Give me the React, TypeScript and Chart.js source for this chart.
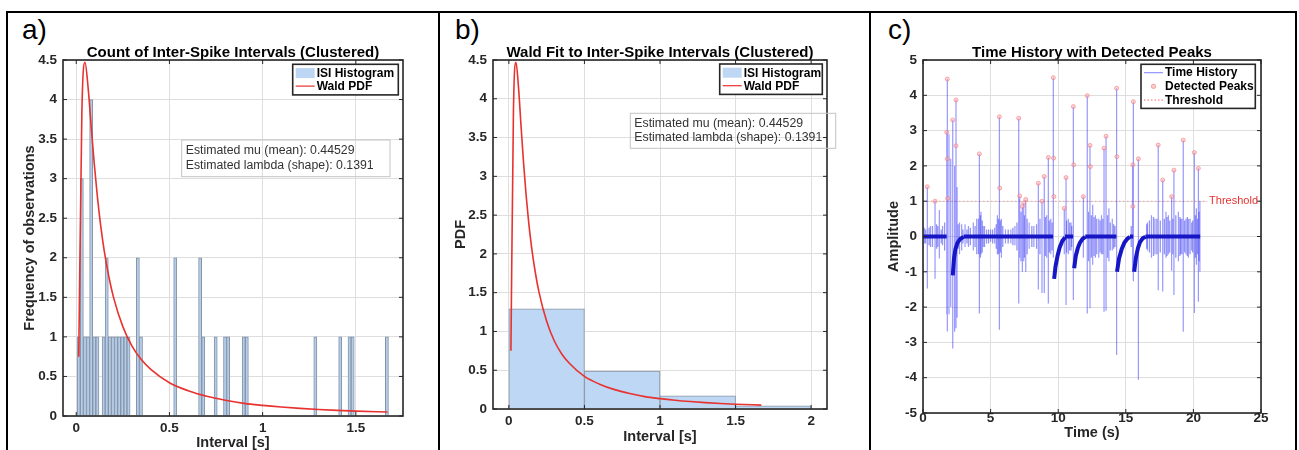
import React, { useEffect, useRef } from 'react';
import { Chart, registerables } from 'chart.js';
Chart.register(...registerables);

// ---------------- data ----------------
// Wald PDF curve (mu = 0.44529, lambda = 0.1391) sampled points
const waldX = [0.0135, 0.0302, 0.047, 0.0637, 0.0805, 0.097, 0.114, 0.131, 0.15, 0.175, 0.2, 0.25, 0.3, 0.35, 0.4, 0.5, 0.6, 0.7, 0.8, 0.9, 1.0, 1.1, 1.2, 1.3, 1.4, 1.5, 1.67];
const waldY = [0.75, 3.83, 4.47, 4.15, 3.65, 3.18, 2.76, 2.41, 2.09, 1.76, 1.5, 1.13, 0.88, 0.71, 0.59, 0.42, 0.32, 0.25, 0.2, 0.16, 0.134, 0.113, 0.096, 0.082, 0.071, 0.062, 0.05];

// Panel a: ISI count histogram (100 bins)
const isiBinStart = 0.005;
const isiBinWidth = 0.0167;
const isiCounts = [
  1, 3, 1, 1, 4, 1, 1, 0, 1, 2,
  1, 1, 1, 1, 1, 1, 1, 0, 0, 2,
  1, 0, 0, 0, 0, 0, 0, 0, 0, 0,
  0, 2, 0, 0, 0, 0, 0, 0, 0, 2,
  1, 0, 0, 0, 1, 0, 0, 1, 1, 0,
  0, 0, 0, 1, 1, 0, 0, 0, 0, 0,
  0, 0, 0, 0, 0, 0, 0, 0, 0, 0,
  0, 0, 0, 0, 0, 0, 1, 0, 0, 0,
  0, 0, 0, 0, 1, 0, 0, 1, 1, 0,
  0, 0, 0, 0, 0, 0, 0, 0, 0, 1,
];
const countXTicks = [0, 0.5, 1, 1.5];
const countYTicks = [0, 0.5, 1, 1.5, 2, 2.5, 3, 3.5, 4, 4.5];

// Panel b: PDF-normalised histogram
const pdfBinEdges = [0, 0.5, 1, 1.5, 2];
const pdfHeights = [1.29, 0.49, 0.17, 0.04];
const pdfXTicks = [0, 0.5, 1, 1.5, 2];

// Panel c: time history
const spikeT = [0.1, 0.32, 0.55, 0.89, 1.21, 1.45, 1.76, 1.8, 1.92, 2.05, 2.2, 2.34, 2.44, 2.52, 2.7, 2.86, 3.11, 3.36, 3.72, 3.97, 4.17, 4.29, 4.45, 4.7, 5.0, 5.3, 5.5, 5.65, 5.8, 6.1, 6.5, 6.8, 7.08, 7.15, 7.35, 7.45, 7.6, 7.85, 8.2, 8.53, 8.8, 8.97, 9.15, 9.27, 9.45, 9.64, 10.45, 10.58, 10.75, 10.95, 11.12, 11.86, 12.15, 12.35, 12.55, 12.75, 13.0, 13.2, 13.39, 13.54, 13.75, 14.0, 14.32, 15.5, 15.56, 15.93, 16.6, 16.9, 17.16, 17.4, 17.73, 17.97, 18.15, 18.39, 18.56, 18.89, 19.05, 19.25, 19.45, 19.63, 19.87, 20.07, 20.22, 20.37, 20.48];
const spikeMax = [0.25, 1.41, 0.3, 1.01, 0.75, 0.3, 2.95, 4.46, 2.9, 2.2, 3.3, 2.0, 3.87, 1.4, 0.4, 0.35, 0.35, 0.3, 0.4, 0.5, 2.34, 0.7, 0.3, 0.2, 0.2, 0.25, 0.6, 3.39, 0.5, 0.2, 0.2, 0.3, 3.35, 1.15, 0.85, 0.95, 1.05, 0.4, 0.3, 1.51, 1.0, 1.7, 0.6, 2.24, 0.5, 4.5, 0.8, 1.67, 0.5, 0.4, 3.68, 1.13, 3.99, 2.58, 0.9, 0.6, 0.5, 0.6, 2.5, 2.84, 0.8, 0.5, 4.2, 2.03, 3.82, 2.2, 0.4, 0.6, 0.5, 2.59, 1.6, 0.7, 0.6, 1.13, 1.88, 0.7, 0.5, 2.73, 0.5, 0.5, 0.4, 2.38, 0.8, 1.93, 1.0];
const spikeMin = [-0.2, -1.47, -0.3, -1.2, -0.62, -0.25, -2.2, -2.69, -2.2, -2.0, -3.17, -2.7, -2.6, -2.3, -0.5, -0.4, -0.3, -0.3, -0.4, -0.5, -2.18, -0.5, -0.3, -0.2, -0.15, -0.2, -0.5, -2.64, -0.6, -0.2, -0.2, -0.25, -1.9, -0.6, -1.0, -0.7, -1.0, -0.35, -0.3, -1.5, -1.6, -1.6, -0.6, -1.9, -0.5, -0.6, -0.5, -1.94, -0.5, -0.4, -1.8, -0.6, -2.18, -2.03, -0.8, -0.6, -0.6, -0.5, -2.13, -2.1, -0.7, -0.4, -3.36, -1.0, -1.27, -4.06, -0.4, -0.6, -0.5, -1.52, -1.56, -0.6, -0.5, -0.97, -1.66, -0.7, -0.5, -2.7, -0.5, -0.6, -0.4, -2.17, -0.8, -1.85, -1.0];
// low-level noise bursts around the baseline (time, half-height)
const noiseT = [0.2, 0.45, 0.7, 1.0, 1.1, 1.35, 1.6, 2.6, 2.95, 3.25, 3.5, 3.85, 4.1, 4.25, 4.38, 4.55, 4.85, 5.15, 5.42, 5.58, 5.72, 5.9, 6.3, 6.65, 6.95, 7.25, 7.5, 7.7, 8.05, 8.4, 8.65, 9.05, 9.35, 9.55, 10.62, 10.85, 11.0, 12.25, 12.45, 12.65, 12.85, 13.1, 13.3, 13.65, 13.85, 14.1, 14.2, 15.4, 16.55, 16.75, 17.05, 17.3, 17.55, 17.85, 18.05, 18.25, 18.48, 18.7, 19.0, 19.15, 19.35, 19.55, 19.75, 19.95, 20.15, 20.3, 20.42];
const noiseAmp = [0.2, 0.25, 0.3, 0.35, 0.3, 0.2, 0.4, 0.35, 0.2, 0.2, 0.25, 0.3, 0.5, 0.6, 0.45, 0.3, 0.2, 0.2, 0.35, 0.5, 0.45, 0.3, 0.2, 0.25, 0.4, 0.7, 0.6, 0.5, 0.3, 0.35, 0.5, 0.55, 0.45, 0.4, 0.45, 0.4, 0.3, 0.7, 0.6, 0.55, 0.5, 0.45, 0.5, 0.6, 0.4, 0.35, 0.3, 0.3, 0.35, 0.45, 0.55, 0.5, 0.45, 0.5, 0.55, 0.45, 0.5, 0.6, 0.55, 0.5, 0.45, 0.55, 0.5, 0.45, 0.6, 0.5, 0.7];
const baselineStart = [0, 3.0, 10.5, 12.0, 15.3, 16.45];
const baselineEnd = [1.75, 9.62, 11.1, 14.3, 15.55, 20.5];
const recoveryT = [
  [2.2, 2.3, 2.4, 2.55, 2.75, 3.0],
  [9.7, 9.8, 9.95, 10.1, 10.3, 10.5],
  [11.18, 11.3, 11.45, 11.6, 11.8, 12.0],
  [14.35, 14.5, 14.7, 14.9, 15.1, 15.3],
  [15.62, 15.75, 15.9, 16.05, 16.25, 16.45],
];
const recoveryY = [
  [-1.1, -0.6, -0.35, -0.18, -0.07, -0.01],
  [-1.2, -0.85, -0.55, -0.32, -0.13, -0.03],
  [-0.9, -0.55, -0.33, -0.18, -0.07, -0.01],
  [-1.0, -0.62, -0.35, -0.17, -0.07, -0.01],
  [-1.0, -0.6, -0.33, -0.16, -0.05, -0.01],
];
const peakT = [0.32, 0.89, 1.76, 1.8, 1.8, 1.82, 2.2, 2.44, 2.44, 4.17, 5.65, 5.67, 7.08, 7.15, 7.35, 7.45, 7.6, 8.53, 8.8, 8.97, 9.27, 9.64, 9.66, 9.68, 10.45, 10.58, 11.12, 11.15, 11.86, 12.15, 12.35, 12.38, 13.39, 13.54, 14.32, 14.34, 15.52, 15.52, 15.56, 15.93, 17.4, 17.73, 18.39, 18.56, 19.25, 20.07, 20.37];
const peakY = [1.41, 1.0, 2.95, 4.46, 2.2, 1.08, 3.3, 3.87, 2.57, 2.34, 3.39, 1.37, 3.35, 1.15, 0.85, 0.95, 1.05, 1.51, 1.0, 1.7, 2.24, 4.5, 2.22, 1.13, 0.8, 1.67, 3.68, 2.03, 1.13, 3.99, 2.58, 1.98, 2.5, 2.84, 4.2, 2.26, 2.03, 0.85, 3.82, 2.2, 2.59, 1.6, 1.13, 1.88, 2.73, 2.38, 1.93];
const thresholdValue = 1;
const timeRange = [0, 25];
const timeXTicks = [0, 5, 10, 15, 20, 25];
const ampYTicks = [-5, -4, -3, -2, -1, 0, 1, 2, 3, 4, 5];

const paramLines = ['Estimated mu (mean): 0.44529', 'Estimated lambda (shape): 0.1391'];

// ---------------- styles ----------------
const FONT = "'Liberation Sans', Arial, Helvetica, sans-serif";
const GRID = '#dedede';
const AXIS = '#262626';
const RED = '#e8322f';
const BAR_FILL = '#b4cce8';
const BAR_EDGE = '#8494a8';

// ---------------- plugins ----------------
const axesBox = {
  id: 'axesBox',
  afterDatasetsDraw(chart: any) {
    const { ctx, chartArea: a } = chart;
    const xs = chart.scales.x;
    const ys = chart.scales.y;
    const tl = 4;
    ctx.save();
    ctx.strokeStyle = AXIS;
    ctx.lineWidth = 1;
    ctx.beginPath();
    xs.ticks.forEach((t: any) => {
      const p = xs.getPixelForValue(t.value);
      ctx.moveTo(p, a.bottom); ctx.lineTo(p, a.bottom - tl);
      ctx.moveTo(p, a.top); ctx.lineTo(p, a.top + tl);
    });
    ys.ticks.forEach((t: any) => {
      const p = ys.getPixelForValue(t.value);
      ctx.moveTo(a.left, p); ctx.lineTo(a.left + tl, p);
      ctx.moveTo(a.right, p); ctx.lineTo(a.right - tl, p);
    });
    ctx.stroke();
    ctx.lineWidth = 1.6;
    ctx.strokeRect(a.left, a.top, a.right - a.left, a.bottom - a.top);
    ctx.restore();
  },
};

type LegItem = { label: string; kind: 'patch' | 'line' | 'marker' | 'dotted'; color: string; edge?: string };
function legendPlugin(cfg: { right: number; top: number; width: number; row: number; pad: number; items: LegItem[] }) {
  return {
    id: 'mLegend',
    afterDraw(chart: any) {
      const { ctx, chartArea: a } = chart;
      const x1 = a.right - cfg.right;
      const x0 = x1 - cfg.width;
      const y0 = a.top + cfg.top;
      const h = cfg.items.length * cfg.row + cfg.pad * 2;
      ctx.save();
      ctx.fillStyle = '#ffffff';
      ctx.fillRect(x0, y0, cfg.width, h);
      ctx.strokeStyle = AXIS;
      ctx.lineWidth = 1.6;
      ctx.strokeRect(x0, y0, cfg.width, h);
      cfg.items.forEach((it, i) => {
        const cy = y0 + cfg.pad + cfg.row * (i + 0.5);
        const sx0 = x0 + 3;
        const sx1 = x0 + 22;
        if (it.kind === 'patch') {
          ctx.fillStyle = it.color;
          ctx.fillRect(sx0, cy - 5, sx1 - sx0, 10);
        } else if (it.kind === 'line' || it.kind === 'dotted') {
          ctx.strokeStyle = it.color;
          ctx.lineWidth = it.kind === 'line' ? 1.2 : 1;
          ctx.setLineDash(it.kind === 'dotted' ? [1.5, 2] : []);
          ctx.beginPath();
          ctx.moveTo(sx0, cy);
          ctx.lineTo(sx1, cy);
          ctx.stroke();
          ctx.setLineDash([]);
        } else {
          ctx.fillStyle = it.color;
          ctx.strokeStyle = it.edge || it.color;
          ctx.beginPath();
          ctx.arc((sx0 + sx1) / 2, cy, 2, 0, Math.PI * 2);
          ctx.fill();
          ctx.stroke();
        }
        ctx.fillStyle = '#000';
        ctx.font = `bold 12px ${FONT}`;
        ctx.textBaseline = 'middle';
        ctx.textAlign = 'left';
        ctx.fillText(it.label, sx1 + 2, cy + 0.5);
      });
      ctx.restore();
    },
  };
}

function textBoxPlugin(cfg: { left: number; top: number; width: number; height: number; gap: number }) {
  return {
    id: 'mText',
    afterDraw(chart: any) {
      const { ctx, chartArea: a } = chart;
      const x0 = a.left + cfg.left;
      const y0 = a.top + cfg.top;
      ctx.save();
      ctx.strokeStyle = '#c4c4c4';
      ctx.lineWidth = 1;
      ctx.strokeRect(x0, y0, cfg.width, cfg.height);
      ctx.fillStyle = '#333333';
      ctx.font = `12.3px ${FONT}`;
      ctx.textBaseline = 'middle';
      ctx.textAlign = 'left';
      const mid = y0 + cfg.height / 2;
      paramLines.forEach((t, i) => {
        ctx.fillText(t, x0 + 4, mid + (i - 0.5) * cfg.gap);
      });
      ctx.restore();
    },
  };
}

const thresholdLabel = {
  id: 'thrLabel',
  afterDatasetsDraw(chart: any) {
    const { ctx, chartArea: a } = chart;
    const y = chart.scales.y.getPixelForValue(thresholdValue);
    ctx.save();
    ctx.font = `11px ${FONT}`;
    const w = ctx.measureText('Threshold').width;
    ctx.fillStyle = '#ffffff';
    ctx.fillRect(a.right - w - 5, y - 5, w + 3, 10);
    ctx.fillStyle = RED;
    ctx.textBaseline = 'middle';
    ctx.textAlign = 'right';
    ctx.fillText('Threshold', a.right - 3, y);
    ctx.restore();
  },
};

// ---------------- helpers ----------------
function titleOpts(text: string) {
  return {
    display: true,
    text,
    color: '#000',
    fullSize: false,
    font: { family: FONT, size: 15, weight: 'bold', lineHeight: 1 },
    padding: { top: 31.5, bottom: -0.5 },
  };
}

function makeScales(o: any) {
  const tickFont = { family: FONT, size: 13.5, weight: 'bold' };
  const titleFont = { family: FONT, size: 14.5, weight: 'bold', lineHeight: 1 };
  return {
    x: {
      type: 'linear',
      min: o.xMin,
      max: o.xMax,
      offset: false,
      afterBuildTicks: (s: any) => { s.ticks = o.xTicks.map((v: number) => ({ value: v })); },
      afterFit: (s: any) => { s.height = o.xHeight; },
      grid: { color: GRID, lineWidth: 1, drawTicks: false, offset: false },
      border: { display: false },
      ticks: { padding: o.xTickPad, color: AXIS, font: tickFont, autoSkip: false, maxRotation: 0, callback: (v: any) => String(v) },
      title: { display: true, text: o.xTitle, color: AXIS, font: titleFont, padding: { top: 0, bottom: o.xTitlePad } },
    },
    y: {
      type: 'linear',
      min: o.yMin,
      max: o.yMax,
      afterBuildTicks: (s: any) => { s.ticks = o.yTicks.map((v: number) => ({ value: v })); },
      afterFit: (s: any) => { s.width = o.yWidth; },
      grid: { color: GRID, lineWidth: 1, drawTicks: false },
      border: { display: false },
      ticks: { padding: o.yTickPad, color: AXIS, font: tickFont, autoSkip: false, callback: (v: any) => String(v) },
      title: { display: true, text: o.yTitle, color: AXIS, font: titleFont, padding: { top: o.yTitlePad, bottom: 0 } },
    },
  };
}

function baseOptions(rightPad: number, title: string, scales: any) {
  return {
    animation: false,
    responsive: false,
    maintainAspectRatio: false,
    devicePixelRatio: 1,
    events: [],
    layout: { padding: { left: 0, right: rightPad, top: 0, bottom: 0 } },
    plugins: { legend: { display: false }, tooltip: { enabled: false }, title: titleOpts(title) },
    scales,
  };
}

// ---------------- chart configs ----------------
function configA() {
  const histData = isiCounts.map((c, k) => ({ x: isiBinStart + isiBinWidth * (k + 0.5), y: c > 0 ? c : null }));
  const waldData = waldX.map((x, i) => ({ x, y: waldY[i] }));
  return {
    type: 'bar',
    data: {
      datasets: [
        { type: 'line', label: 'Wald PDF', data: waldData, borderColor: RED, borderWidth: 1.6, pointRadius: 0, cubicInterpolationMode: 'monotone', order: 0 },
        { type: 'bar', label: 'ISI Histogram', data: histData, backgroundColor: BAR_FILL, borderColor: BAR_EDGE, borderWidth: 1, barPercentage: 1, categoryPercentage: 1, order: 1 },
      ],
    },
    options: baseOptions(35, 'Count of Inter-Spike Intervals (Clustered)', makeScales({
      xMin: -0.071, xMax: 1.753, xTicks: countXTicks, xHeight: 34, xTickPad: 4, xTitle: 'Interval [s]', xTitlePad: 0,
      yMin: 0, yMax: 4.5, yTicks: countYTicks, yWidth: 55, yTickPad: 6, yTitle: 'Frequency of observations', yTitlePad: 14.3,
    })),
    plugins: [
      axesBox,
      legendPlugin({ right: 4.7, top: 4.3, width: 105.6, row: 13, pad: 2.3, items: [
        { label: 'ISI Histogram', kind: 'patch', color: '#bcd6f4' },
        { label: 'Wald PDF', kind: 'line', color: RED },
      ] }),
      textBoxPlugin({ left: 118.7, top: 80, width: 208.3, height: 36.7, gap: 14.6 }),
    ],
  };
}

function configB() {
  const histData = pdfHeights.map((h, i) => ({ x: (pdfBinEdges[i] + pdfBinEdges[i + 1]) / 2, y: h }));
  const waldData = waldX.map((x, i) => ({ x, y: waldY[i] }));
  return {
    type: 'bar',
    data: {
      datasets: [
        { type: 'line', label: 'Wald PDF', data: waldData, borderColor: RED, borderWidth: 1.6, pointRadius: 0, cubicInterpolationMode: 'monotone', order: 0 },
        { type: 'bar', label: 'ISI Histogram', data: histData, backgroundColor: '#bdd7f5', borderColor: '#8b96a2', borderWidth: 1, barPercentage: 1, categoryPercentage: 1, order: 1 },
      ],
    },
    options: baseOptions(42, 'Wald Fit to Inter-Spike Intervals (Clustered)', makeScales({
      xMin: -0.105, xMax: 2.105, xTicks: pdfXTicks, xHeight: 41, xTickPad: 4, xTitle: 'Interval [s]', xTitlePad: 5.8,
      yMin: 0, yMax: 4.5, yTicks: countYTicks, yWidth: 52, yTickPad: 6, yTitle: 'PDF', yTitlePad: 12.3,
    })),
    plugins: [
      axesBox,
      legendPlugin({ right: 4.7, top: 4, width: 102.6, row: 13, pad: 2.2, items: [
        { label: 'ISI Histogram', kind: 'patch', color: '#bdd7f5' },
        { label: 'Wald PDF', kind: 'line', color: RED },
      ] }),
      textBoxPlugin({ left: 137.3, top: 53.3, width: 205.4, height: 35, gap: 14.6 }),
    ],
  };
}

function configC() {
  const spikeData: any[] = [];
  spikeT.forEach((t, i) => {
    spikeData.push({ x: t, y: 0 }, { x: t, y: spikeMax[i] }, { x: t, y: spikeMin[i] }, { x: t, y: 0 }, { x: t, y: null });
  });
  const noiseData: any[] = [];
  noiseT.forEach((t, i) => {
    noiseData.push({ x: t, y: noiseAmp[i] }, { x: t, y: -noiseAmp[i] }, { x: t, y: null });
  });
  const bandData: any[] = [];
  baselineStart.forEach((s, i) => {
    bandData.push({ x: s, y: 0 }, { x: baselineEnd[i], y: 0 }, { x: baselineEnd[i], y: null });
  });
  recoveryT.forEach((ts, j) => {
    ts.forEach((t, k) => bandData.push({ x: t, y: recoveryY[j][k] }));
    bandData.push({ x: ts[ts.length - 1], y: null });
  });
  const peakData = peakT.map((t, i) => ({ x: t, y: peakY[i] }));
  const thrData = timeRange.map((t) => ({ x: t, y: thresholdValue }));
  return {
    type: 'line',
    data: {
      datasets: [
        { label: 'Detected Peaks', data: peakData, showLine: false, pointRadius: 2, pointBackgroundColor: 'rgba(255,170,170,0.45)', pointBorderColor: 'rgba(245,120,120,0.6)', pointBorderWidth: 1, order: 0 },
        { label: 'band', data: bandData, borderColor: '#1616c4', borderWidth: 4, pointRadius: 0, tension: 0, order: 1 },
        { label: 'Time History', data: spikeData, borderColor: 'rgba(50,50,255,0.5)', borderWidth: 1.2, pointRadius: 0, tension: 0, order: 2 },
        { label: 'noise', data: noiseData, borderColor: 'rgba(40,40,230,0.5)', borderWidth: 1.3, pointRadius: 0, tension: 0, order: 2 },
        { label: 'Threshold', data: thrData, borderColor: 'rgba(255,80,80,0.45)', borderWidth: 1, borderDash: [1.5, 2.5], pointRadius: 0, order: 3 },
      ],
    },
    options: baseOptions(33, 'Time History with Detected Peaks', makeScales({
      xMin: timeRange[0], xMax: timeRange[1], xTicks: timeXTicks, xHeight: 37, xTickPad: -3, xTitle: 'Time (s)', xTitlePad: 10,
      yMin: -5, yMax: 5, yTicks: ampYTicks, yWidth: 51, yTickPad: 6, yTitle: 'Amplitude', yTitlePad: 14.3,
    })),
    plugins: [
      thresholdLabel,
      axesBox,
      legendPlugin({ right: 5.7, top: 4.3, width: 114.3, row: 13.7, pad: 1.5, items: [
        { label: 'Time History', kind: 'line', color: 'rgba(80,80,255,0.6)' },
        { label: 'Detected Peaks', kind: 'marker', color: 'rgba(255,170,170,0.45)', edge: 'rgba(245,120,120,0.6)' },
        { label: 'Threshold', kind: 'dotted', color: 'rgba(255,60,60,0.8)' },
      ] }),
    ],
  };
}

// ---------------- components ----------------
function ChartCanvas({ left, top, width, height, make }: { left: number; top: number; width: number; height: number; make: () => any }) {
  const ref = useRef<HTMLCanvasElement>(null);
  useEffect(() => {
    const chart = new Chart(ref.current as HTMLCanvasElement, make());
    return () => chart.destroy();
  }, []);
  return <canvas ref={ref} width={width} height={height} style={{ position: 'absolute', left, top, width, height }} />;
}

const line = (l: number, t: number, w: number, h: number) => (
  <div style={{ position: 'absolute', left: l, top: t, width: w, height: h, background: '#000' }} />
);

const panelLabel = (text: string, left: number) => (
  <div style={{ position: 'absolute', left, top: 15, fontFamily: FONT, fontSize: 28, lineHeight: '30px', color: '#000' }}>{text}</div>
);

export default function App() {
  return (
    <div style={{ position: 'fixed', left: 0, top: 0, width: 1299, height: 450, background: '#fff', overflow: 'hidden' }}>
      {line(6, 11, 1291, 2)}
      {line(6, 11, 2, 439)}
      {line(438, 11, 2, 439)}
      {line(869, 11, 2, 439)}
      {line(1295, 11, 2, 439)}
      {panelLabel('a)', 22)}
      {panelLabel('b)', 455)}
      {panelLabel('c)', 888)}
      <ChartCanvas left={8} top={14} width={430} height={436} make={configA} />
      <ChartCanvas left={441} top={14} width={428} height={436} make={configB} />
      <ChartCanvas left={872} top={14} width={422} height={436} make={configC} />
    </div>
  );
}
